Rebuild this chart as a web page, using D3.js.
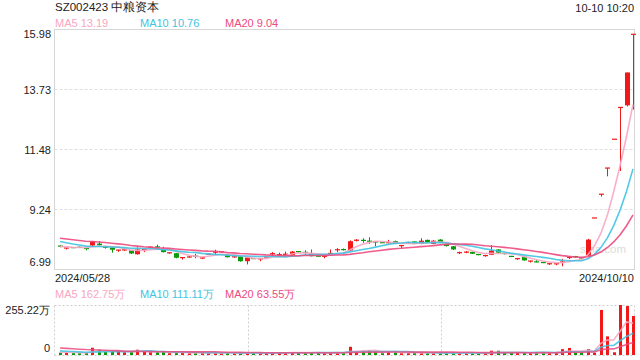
<!DOCTYPE html>
<html><head><meta charset="utf-8">
<script src="https://cdn.jsdelivr.net/npm/d3@7/dist/d3.min.js"></script>
<style>body{margin:0;background:#fff;}svg{display:block;font-family:"Liberation Sans",Arial,sans-serif;}</style>
</head><body><svg id="c" width="640" height="360"></svg>
<script>
// ---------- data ----------
const title = "SZ002423 中粮资本";
const timeLabel = "10-10 10:20";
const dateLabels = ["2024/05/28", "2024/10/10"];
const priceTicks = [15.98, 13.73, 11.48, 9.24, 6.99];
const volTicks = [255.22, 0];
const volTickLabels = ["255.22万", "0"];
const maNames = ["MA5", "MA10", "MA20"];
const maPeriods = [5, 10, 20];
const priceMALabels = ["13.19", "10.76", "9.04"];
const volMALabels = ["162.75万", "111.11万", "63.55万"];

const opens = [7.88,7.79,7.82,7.83,7.79,7.89,7.96,7.86,7.82,7.71,
7.72,7.71,7.56,7.73,7.81,7.85,7.75,7.61,7.60,7.43,
7.44,7.50,7.40,7.56,7.63,7.64,7.56,7.46,7.48,7.30,
7.41,7.38,7.45,7.57,7.54,7.54,7.51,7.67,7.64,7.59,
7.50,7.48,7.58,7.72,7.74,7.70,8.08,8.09,8.06,8.04,
8.00,7.99,8.05,7.88,7.98,8.04,7.95,8.10,7.95,8.11,
7.93,7.86,7.61,7.63,7.65,7.56,7.50,7.54,7.74,7.60,
7.49,7.39,7.47,7.30,7.28,7.26,7.20,7.20,7.25,7.43,
7.48,7.44,7.51,8.92,9.81,10.79,11.87,13.06,13.14,15.80];
const highs = [7.91,7.81,7.83,7.85,7.80,8.06,8.05,7.88,7.84,7.73,
7.74,7.72,7.82,7.77,7.86,7.92,7.84,7.63,7.61,7.45,
7.49,7.58,7.46,7.58,7.73,7.68,7.58,7.48,7.49,7.45,
7.42,7.42,7.47,7.64,7.62,7.66,7.68,7.68,7.71,7.74,
7.51,7.50,7.74,7.79,7.78,8.08,8.13,8.16,8.20,8.05,
8.01,8.10,8.07,7.90,8.03,8.05,8.16,8.11,8.09,8.13,
7.95,7.87,7.66,7.68,7.66,7.57,7.54,7.90,7.75,7.62,
7.50,7.41,7.48,7.32,7.36,7.27,7.22,7.22,7.39,7.50,
7.50,7.45,8.14,8.92,9.81,10.79,11.87,13.06,14.37,15.80];
const lows = [7.82,7.74,7.79,7.80,7.71,7.87,7.88,7.77,7.62,7.65,
7.69,7.57,7.55,7.64,7.80,7.80,7.63,7.58,7.41,7.36,
7.43,7.41,7.38,7.55,7.56,7.63,7.44,7.43,7.28,7.18,
7.38,7.30,7.44,7.49,7.53,7.53,7.49,7.64,7.54,7.48,
7.47,7.41,7.57,7.64,7.70,7.68,8.04,7.99,7.95,7.86,
7.98,7.97,7.95,7.79,7.96,7.94,7.94,8.00,7.94,7.99,
7.85,7.72,7.57,7.60,7.57,7.52,7.47,7.53,7.61,7.55,
7.46,7.35,7.32,7.25,7.26,7.23,7.16,7.15,7.11,7.38,
7.43,7.39,7.48,8.92,9.72,10.48,11.87,10.68,13.10,12.98];
const closes = [7.85,7.80,7.80,7.81,7.76,8.04,7.90,7.80,7.73,7.72,
7.73,7.59,7.74,7.75,7.84,7.82,7.64,7.62,7.43,7.44,
7.48,7.48,7.45,7.57,7.65,7.66,7.45,7.47,7.30,7.44,
7.39,7.40,7.46,7.59,7.55,7.58,7.66,7.65,7.62,7.49,
7.48,7.49,7.60,7.74,7.73,8.05,8.09,8.07,8.04,8.00,
7.99,8.00,7.96,7.89,8.00,7.95,8.07,8.01,8.07,8.01,
7.87,7.74,7.63,7.65,7.58,7.54,7.52,7.70,7.62,7.58,
7.47,7.40,7.33,7.31,7.27,7.24,7.21,7.21,7.29,7.45,
7.46,7.41,8.11,8.92,9.81,10.79,11.87,13.06,14.37,15.80];
// closes before the visible window (feed the moving averages)
const priorCloses = [8.35,8.40,8.32,8.30,8.25,8.22,8.28,8.26,8.20,8.22,
8.25,8.28,8.20,8.18,8.19,7.90,7.88,7.84,7.82];
// volume in 万
const volumes = [12,12,10,9,10,37,27,17,19,19,
14,15,27,19,14,14,15,9,14,12,
9,10,14,10,12,9,12,10,10,10,
10,10,10,14,12,12,14,12,10,14,
12,10,12,14,10,42,17,22,24,17,
9,15,14,9,10,10,12,10,10,12,
12,9,10,10,9,9,10,22,22,10,
12,11,12,12,12,12,11,12,30,36,
13,13,30,12,230,95,14,255.22,250,199];
const priorVolumes = [50,48,52,45,55,50,47,53,50,50,30,26,28,29,27,15,14,16,15];

// ---------- layout ----------
const W = 640, H = 360;
const L = 54.5, R = 634.5, PT = 29.5, PB = 269.5;
const VT = 305.5, VB = 355.5;
const RED = "#f21818", GREEN = "#0a9a0a", GRAY = "#999";
const maColors = ["#f7a6c2", "#3fc3e2", "#ec4a80"];
const N = closes.length;

const svg = d3.select("#c");
const x = d3.scaleLinear().domain([0, N - 1]).range([60, 633]);
const y = d3.scaleLinear().domain([priceTicks[priceTicks.length - 1], priceTicks[0]]).range([PB, PT]);
const yv = d3.scaleLinear().domain([0, volTicks[0]]).range([VB - 0.5, VT - 0.5]);

function dir(i) {
  if (closes[i] > opens[i]) return 1;
  if (closes[i] < opens[i]) return -1;
  const prev = i > 0 ? closes[i - 1] : priorCloses[priorCloses.length - 1];
  return closes[i] > prev ? 1 : closes[i] < prev ? -1 : 0;
}
const colorOf = i => { const d = dir(i); return d > 0 ? RED : d < 0 ? GREEN : GRAY; };

function movingAvg(prior, vals, p) {
  const all = prior.concat(vals), off = prior.length;
  return vals.map((v, i) => d3.mean(all.slice(off + i - p + 1, off + i + 1)));
}

// ---------- header ----------
svg.append("text").attr("x", 55).attr("y", 11).attr("font-size", 11.5).attr("fill", "#222").text(title);
svg.append("text").attr("x", 634).attr("y", 11.5).attr("font-size", 11).attr("fill", "#222").attr("text-anchor", "end").text(timeLabel);
maNames.forEach((n, k) => {
  svg.append("text").attr("x", 55 + 85 * k).attr("y", 27).attr("font-size", 11).attr("fill", maColors[k]).text(n + " " + priceMALabels[k]);
  svg.append("text").attr("x", 55 + 85 * k).attr("y", 298).attr("font-size", 11).attr("fill", maColors[k]).text(n + " " + volMALabels[k]);
});

// ---------- price panel ----------
priceTicks.forEach((t, k) => {
  const yy = Math.round(y(t) - 0.5) + 0.5;
  if (k > 0 && k < priceTicks.length - 1) {
    svg.append("line").attr("x1", L).attr("x2", R).attr("y1", yy).attr("y2", yy)
      .attr("stroke", "#dedede").attr("stroke-dasharray", "3,2");
  }
  let ty = yy + 4;
  if (k === 0) ty = yy + 8.5;
  if (k === priceTicks.length - 1) ty = yy - 3.5;
  svg.append("text").attr("x", 51).attr("y", ty).attr("font-size", 11).attr("fill", "#222")
    .attr("text-anchor", "end").text(t.toFixed(2));
});
svg.append("rect").attr("x", L).attr("y", PT).attr("width", R - L).attr("height", PB - PT)
  .attr("fill", "none").attr("stroke", "#d6d6d6");

svg.append("text").attr("x", 580).attr("y", 253).attr("font-size", 11.5).attr("fill", "#dcdcdc").text("sina.com");

const cg = svg.append("g");
d3.range(N).forEach(i => {
  const cx = Math.round(x(i)) + 0.5, c = colorOf(i);
  cg.append("line").attr("x1", cx).attr("x2", cx).attr("y1", y(highs[i])).attr("y2", y(lows[i])).attr("stroke", c);
  const top = y(Math.max(opens[i], closes[i])), bot = y(Math.min(opens[i], closes[i]));
  const h = Math.max(1.2, bot - top);
  cg.append("rect").attr("x", cx - 2.5).attr("y", h > 1.2 ? top : (top + bot) / 2 - 0.6)
    .attr("width", 5).attr("height", h).attr("fill", c);
});

maPeriods.forEach((p, k) => {
  const ma = movingAvg(priorCloses, closes, p);
  svg.append("path").datum(ma).attr("fill", "none").attr("stroke", maColors[k])
    .attr("stroke-width", 1.6).attr("stroke-opacity", 0.9)
    .attr("d", d3.line().x((d, i) => x(i)).y(d => y(d)));
});

// dates
svg.append("text").attr("x", 55).attr("y", 282).attr("font-size", 11).attr("fill", "#222").text(dateLabels[0]);
svg.append("text").attr("x", 634).attr("y", 282).attr("font-size", 11).attr("fill", "#222").attr("text-anchor", "end").text(dateLabels[1]);

// ---------- volume panel ----------
const dot = { stroke: "#cfcfcf", dash: "2,2" };
[[L, VT, R, VT], [L, VB, R, VB], [L, VT, L, VB], [R, VT, R, VB],
 [Math.round(L + (R - L) / 3) + 0.5, VT, Math.round(L + (R - L) / 3) + 0.5, VB],
 [Math.round(L + 2 * (R - L) / 3) + 0.5, VT, Math.round(L + 2 * (R - L) / 3) + 0.5, VB]].forEach(s => {
  svg.append("line").attr("x1", s[0]).attr("y1", s[1]).attr("x2", s[2]).attr("y2", s[3])
    .attr("stroke", dot.stroke).attr("stroke-dasharray", dot.dash);
});
svg.append("text").attr("x", 50).attr("y", 314).attr("font-size", 11).attr("fill", "#222").attr("text-anchor", "end").text(volTickLabels[0]);
svg.append("text").attr("x", 50).attr("y", 352).attr("font-size", 11).attr("fill", "#222").attr("text-anchor", "end").text(volTickLabels[1]);

d3.range(N).forEach(i => {
  const cx = Math.round(x(i)) - 1;
  const top = yv(volumes[i]);
  svg.append("rect").attr("x", cx).attr("y", top).attr("width", 3).attr("height", Math.max(1, yv(0) - top)).attr("fill", colorOf(i));
});
maPeriods.forEach((p, k) => {
  const ma = movingAvg(priorVolumes, volumes, p);
  svg.append("path").datum(ma).attr("fill", "none").attr("stroke", maColors[k])
    .attr("stroke-width", 1.6).attr("stroke-opacity", 0.85)
    .attr("d", d3.line().x((d, i) => x(i)).y(d => yv(d)));
});
</script></body></html>
